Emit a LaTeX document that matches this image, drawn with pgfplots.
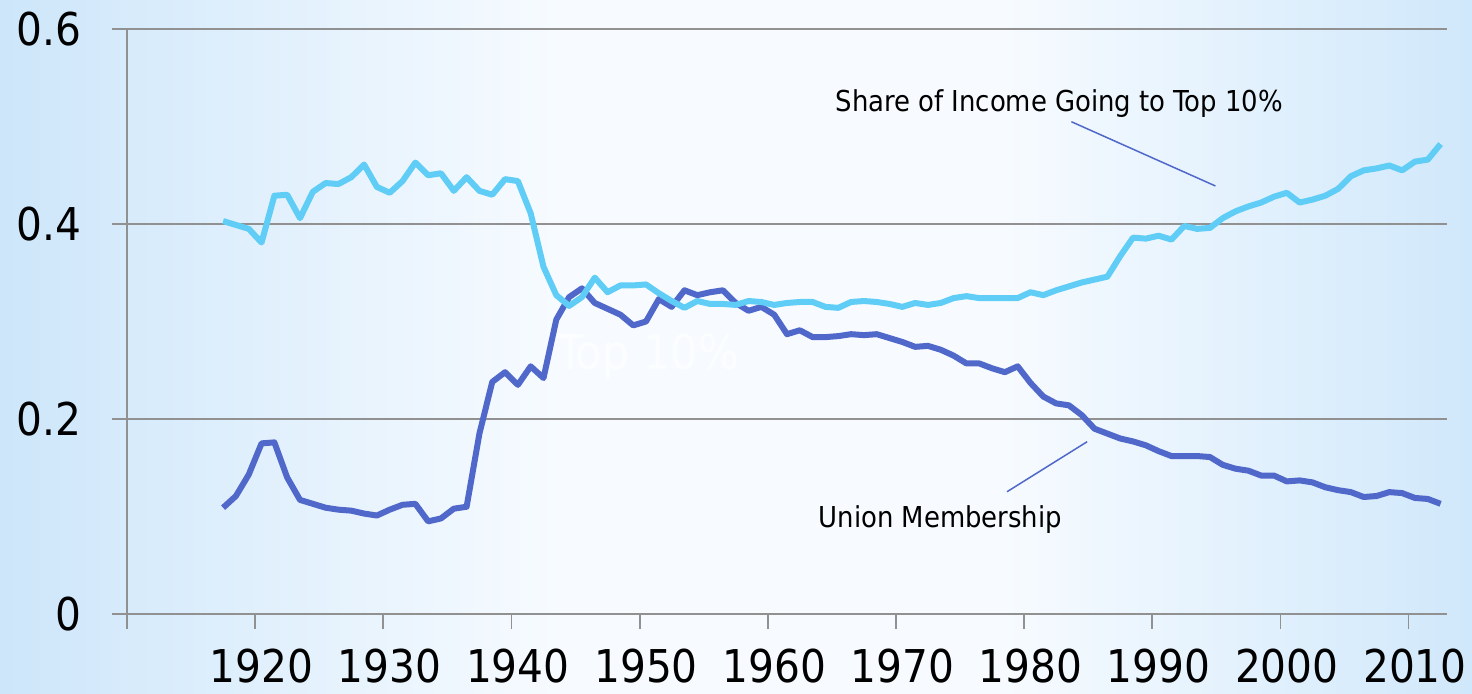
\documentclass[border=0pt]{standalone}
\usepackage{fontspec}
\setmainfont{DejaVu Sans Condensed}
\usepackage{pgfplots}
\pgfplotsset{compat=1.18}

\definecolor{bgl}{RGB}{205,230,250}
\definecolor{bgm}{RGB}{247,251,255}
\definecolor{bgr}{RGB}{208,232,251}
\definecolor{gridgray}{RGB}{145,145,145}
\definecolor{topblue}{RGB}{95,205,245}
\definecolor{unionblue}{RGB}{80,104,202}

\pgfdeclarehorizontalshading{slidebg}{100bp}{color(0bp)=(bgl); color(25bp)=(bgl); color(44bp)=(bgm); color(59bp)=(bgm); color(75bp)=(bgr); color(100bp)=(bgr)}

\pgfplotstableread{
year share
1917 0.403
1918 0.399
1919 0.395
1920 0.381
1921 0.429
1922 0.430
1923 0.406
1924 0.433
1925 0.442
1926 0.441
1927 0.448
1928 0.461
1929 0.438
1930 0.432
1931 0.444
1932 0.463
1933 0.450
1934 0.452
1935 0.434
1936 0.448
1937 0.434
1938 0.430
1939 0.446
1940 0.444
1941 0.411
1942 0.356
1943 0.327
1944 0.316
1945 0.325
1946 0.345
1947 0.330
1948 0.337
1949 0.337
1950 0.338
1951 0.329
1952 0.321
1953 0.314
1954 0.321
1955 0.318
1956 0.318
1957 0.317
1958 0.321
1959 0.320
1960 0.317
1961 0.319
1962 0.320
1963 0.320
1964 0.315
1965 0.314
1966 0.320
1967 0.321
1968 0.320
1969 0.318
1970 0.315
1971 0.319
1972 0.317
1973 0.319
1974 0.324
1975 0.326
1976 0.324
1977 0.324
1978 0.324
1979 0.324
1980 0.330
1981 0.327
1982 0.332
1983 0.336
1984 0.340
1985 0.343
1986 0.346
1987 0.367
1988 0.386
1989 0.385
1990 0.388
1991 0.384
1992 0.398
1993 0.395
1994 0.396
1995 0.406
1996 0.413
1997 0.418
1998 0.422
1999 0.428
2000 0.432
2001 0.422
2002 0.425
2003 0.429
2004 0.436
2005 0.449
2006 0.455
2007 0.457
2008 0.460
2009 0.455
2010 0.464
2011 0.466
2012 0.482
}\topten

\pgfplotstableread{
year members
1917 0.109
1918 0.121
1919 0.143
1920 0.175
1921 0.176
1922 0.140
1923 0.117
1924 0.113
1925 0.109
1926 0.107
1927 0.106
1928 0.103
1929 0.101
1930 0.107
1931 0.112
1932 0.113
1933 0.095
1934 0.098
1935 0.108
1936 0.110
1937 0.185
1938 0.238
1939 0.248
1940 0.235
1941 0.254
1942 0.242
1943 0.302
1944 0.325
1945 0.334
1946 0.319
1947 0.313
1948 0.307
1949 0.296
1950 0.300
1951 0.323
1952 0.315
1953 0.332
1954 0.327
1955 0.330
1956 0.332
1957 0.319
1958 0.311
1959 0.315
1960 0.307
1961 0.287
1962 0.291
1963 0.284
1964 0.284
1965 0.285
1966 0.287
1967 0.286
1968 0.287
1969 0.283
1970 0.279
1971 0.274
1972 0.275
1973 0.271
1974 0.265
1975 0.257
1976 0.257
1977 0.252
1978 0.248
1979 0.254
1980 0.237
1981 0.223
1982 0.216
1983 0.214
1984 0.204
1985 0.190
1986 0.185
1987 0.180
1988 0.177
1989 0.173
1990 0.167
1991 0.162
1992 0.162
1993 0.162
1994 0.161
1995 0.153
1996 0.149
1997 0.147
1998 0.142
1999 0.142
2000 0.136
2001 0.137
2002 0.135
2003 0.130
2004 0.127
2005 0.125
2006 0.120
2007 0.121
2008 0.125
2009 0.124
2010 0.119
2011 0.118
2012 0.113
}\union

\begin{document}
\begin{tikzpicture}
\useasboundingbox (-63.5pt,-40pt) rectangle (672.5pt,307pt);
\clip (-63.5pt,-40pt) rectangle (672.5pt,307pt);
\shade[shading=slidebg] (-63.5pt,-40pt) rectangle (672.5pt,307pt);
\begin{axis}[
  at={(0,0)}, anchor=south west,
  scale only axis,
  width=660pt, height=292.5pt,
  xmin=1909.5, xmax=2012.5,
  ymin=0, ymax=0.6,
  clip=false,
  axis x line*=bottom,
  axis y line*=left,
  axis line style={-, draw=gridgray, line width=0.9pt},
  xtick={1909.5,1919.5,1929.5,1939.5,1949.5,1959.5,1969.5,1979.5,1989.5,1999.5,2009.5},
  xticklabels={,1920,1930,1940,1950,1960,1970,1980,1990,2000,2010},
  ytick={0,0.2,0.4,0.6},
  yticklabels={0,0.2,0.4,0.6},
  tick align=outside,
  major tick length=7.3pt,
  tick style={draw=gridgray, line width=0.9pt},
  ymajorgrids,
  grid style={draw=gridgray, line width=0.9pt},
  xticklabel style={anchor=north, inner sep=0pt, xshift=3.2pt, font=\fontsize{22.6}{26}\selectfont},
  yticklabel style={anchor=east, inner sep=0pt, font=\fontsize{22.6}{26}\selectfont},
  xticklabel shift=10pt,
  yticklabel shift=15.5pt,
  line join=round,
]
\node[anchor=base west, inner sep=0pt, text=white, opacity=0.55, font=\fontsize{24}{28}\selectfont] at (axis cs:1943.07,0.2503) {Top 10\%};
\addplot[color=unionblue, line width=3pt, no marks] table[x=year, y=members] {\union};
\addplot[color=topblue, line width=3pt, no marks] table[x=year, y=share] {\topten};
\node[anchor=base west, inner sep=0pt, font=\fontsize{14.4}{17}\selectfont] at (axis cs:1964.77,0.5149) {Share of Income Going to Top 10\%};
\draw[unionblue, line width=0.75pt] (axis cs:1983.19,0.5049) -- (axis cs:1994.43,0.439);
\node[anchor=base west, inner sep=0pt, font=\fontsize{14.4}{17}\selectfont] at (axis cs:1963.44,0.0892) {Union Membership};
\draw[unionblue, line width=0.75pt] (axis cs:1978.17,0.1254) -- (axis cs:1984.42,0.1767);
\end{axis}
\end{tikzpicture}
\end{document}
